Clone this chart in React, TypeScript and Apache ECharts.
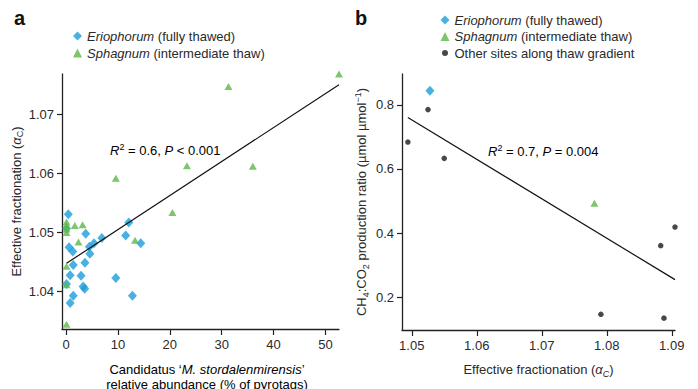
import React, { useEffect, useRef } from "react";
import * as echarts from "echarts";

const NAME_E = "Eriophorum (fully thawed)";
const NAME_S = "Sphagnum (intermediate thaw)";
const NAME_O = "Other sites along thaw gradient";

// Panel a: x = relative abundance (%), y = effective fractionation
const aEriophorum: [number, number][] = [
  [0.45, 1.0531], [0.1, 1.0507], [3.8, 1.0498], [0.6, 1.0475], [1.3, 1.0468],
  [4.5, 1.0476], [5.4, 1.0482], [6.9, 1.0491], [4.6, 1.0464], [3.65, 1.0449],
  [1.4, 1.0445], [0.8, 1.0428], [2.9, 1.0427], [3.3, 1.0409], [3.6, 1.0405],
  [1.4, 1.0393], [0.8, 1.0381], [0.1, 1.0413], [9.6, 1.0423], [11.5, 1.0495],
  [12.1, 1.0517], [12.8, 1.0393], [14.4, 1.0482],
];
const aSphagnum: [number, number][] = [
  [52.6, 1.0768], [31.3, 1.0747], [23.3, 1.0613], [36.0, 1.0612], [9.6, 1.0592],
  [20.5, 1.0534], [13.3, 1.0487], [0.1, 1.0345], [0.1, 1.0443], [0.1, 1.0412],
  [0.1, 1.0518], [0.1, 1.0512], [0.1, 1.0506], [0.1, 1.05], [1.7, 1.0512],
  [3.2, 1.0513], [2.4, 1.0484],
];
const aFit: [number, number][] = [[0.1, 1.0448], [52.6, 1.075]];
const aXTicks = [0, 10, 20, 30, 40, 50];
const aYTicks = [1.04, 1.05, 1.06, 1.07];

// Panel b: x = effective fractionation, y = CH4:CO2 production ratio
const bEriophorum: [number, number][] = [[1.0528, 0.8435]];
const bSphagnum: [number, number][] = [[1.0781, 0.493]];
const bOther: [number, number][] = [
  [1.0494, 0.684], [1.0525, 0.785], [1.055, 0.633], [1.0905, 0.419],
  [1.0883, 0.361], [1.0791, 0.147], [1.0888, 0.135],
];
const bFit: [number, number][] = [[1.0494, 0.7605], [1.0905, 0.255]];
const bXTicks = [1.05, 1.06, 1.07, 1.08, 1.09];
const bYTicks = [0.2, 0.4, 0.6, 0.8];

const FONT = "'Liberation Sans', Arial, Helvetica, sans-serif";
const TXT = "#2a2a2a";
const BLUE = "#1c9ddb";
const GREEN = "#5cb848";
const DOT = "#1a1a1a";
const SMALL_DOT_ICON =
  "path://M0,0 M9,9 M4.5,1.5 A3,3 0 1,1 4.5,7.5 A3,3 0 1,1 4.5,1.5 Z";

const legendRich = {
  i: { fontStyle: "italic", fontSize: 13, fontFamily: FONT, color: TXT },
  n: { fontSize: 13, fontFamily: FONT, color: TXT },
};
const legendFormatter = (name: string) => {
  if (name === NAME_E) return "{i|Eriophorum}{n| (fully thawed)}";
  if (name === NAME_S) return "{i|Sphagnum}{n| (intermediate thaw)}";
  return "{n|" + name + "}";
};

const axisCommon = {
  axisLine: { show: true, onZero: false, lineStyle: { color: "#222", width: 1.3 } },
  axisTick: { show: true, length: 5, lineStyle: { color: "#222", width: 1.2 } },
  splitLine: { show: false },
};

export default function App() {
  const ref = useRef<HTMLDivElement>(null);
  useEffect(() => {
    if (!ref.current) return;
    const chart = echarts.init(ref.current, null, { renderer: "svg" });
    const labelStyle = { color: TXT, fontSize: 13, fontFamily: FONT };
    const base = { fontSize: 13, fontFamily: FONT, color: TXT, lineHeight: 17 };
    const nameRich = {
      n: { ...base },
      i: { ...base, fontStyle: "italic" },
      sub: { fontSize: 9, fontFamily: FONT, color: TXT, verticalAlign: "bottom", lineHeight: 10 },
      isub: { fontSize: 9, fontFamily: FONT, color: TXT, fontStyle: "italic", verticalAlign: "bottom", lineHeight: 10 },
      sup: { fontSize: 9, fontFamily: FONT, color: TXT, verticalAlign: "top", lineHeight: 10 },
    };
    const twoLineRich = {
      n: { fontSize: 13, fontFamily: FONT, color: TXT, lineHeight: 15 },
      i: { fontSize: 13, fontFamily: FONT, color: TXT, lineHeight: 15, fontStyle: "italic" },
    };
    chart.setOption({
      animation: false,
      textStyle: { fontFamily: FONT },
      grid: [
        { left: 62, top: 74, width: 277, height: 255 },
        { left: 402, top: 74, width: 273, height: 256 },
      ],
      xAxis: [
        {
          type: "value", gridIndex: 0, min: -0.77, max: 52.6,
          ...axisCommon,
          axisTick: { ...axisCommon.axisTick, length: 6, customValues: aXTicks },
          axisLabel: { ...labelStyle, margin: 9, customValues: aXTicks, formatter: (v: number) => String(v) },
        },
        {
          type: "value", gridIndex: 1, min: 1.0485, max: 1.0905,
          ...axisCommon,
          axisTick: { ...axisCommon.axisTick, length: 6, customValues: bXTicks },
          axisLabel: { ...labelStyle, margin: 9, customValues: bXTicks, formatter: (v: number) => v.toFixed(2) },
          name: "{n|Effective fractionation (}{i|α}{isub|C}{n|)}",
          nameLocation: "middle", nameGap: 31,
          nameTextStyle: { color: TXT, fontSize: 13, rich: nameRich },
        },
      ],
      yAxis: [
        {
          type: "value", gridIndex: 0, min: 1.0337, max: 1.0768,
          ...axisCommon,
          axisTick: { ...axisCommon.axisTick, customValues: aYTicks },
          axisLabel: { ...labelStyle, margin: 8, customValues: aYTicks, formatter: (v: number) => v.toFixed(2) },
          name: "{n|Effective fractionation (}{i|α}{sub|C}{n|)}",
          nameLocation: "middle", nameGap: 34, nameRotate: 90,
          nameTextStyle: { color: TXT, fontSize: 13, rich: nameRich },
        },
        {
          type: "value", gridIndex: 1, min: 0.098, max: 0.896,
          ...axisCommon,
          axisTick: { ...axisCommon.axisTick, customValues: bYTicks },
          axisLabel: { ...labelStyle, margin: 8, customValues: bYTicks, formatter: (v: number) => v.toFixed(1) },
          name: "{n|CH}{sub|4}{n|:CO}{sub|2}{n| production ratio (µmol µmol}{sup|−1}{n|)}",
          nameLocation: "middle", nameGap: 32, nameRotate: 90,
          nameTextStyle: { color: TXT, fontSize: 13, rich: nameRich },
        },
      ],
      legend: [
        {
          orient: "vertical", left: 73, top: 28, itemWidth: 9, itemHeight: 9, itemGap: 1,
          padding: 0, selectedMode: false,
          data: [NAME_E, NAME_S],
          formatter: legendFormatter,
          textStyle: { fontSize: 13, lineHeight: 16, color: TXT, rich: legendRich },
        },
        {
          orient: "vertical", left: 440.5, top: 12, itemWidth: 9, itemHeight: 9, itemGap: 0.5,
          padding: 0, selectedMode: false,
          data: [NAME_E, NAME_S, { name: NAME_O, icon: SMALL_DOT_ICON }],
          formatter: legendFormatter,
          textStyle: { fontSize: 13, lineHeight: 16, color: TXT, rich: legendRich },
        },
      ],
      series: [
        {
          name: NAME_E, type: "scatter", xAxisIndex: 0, yAxisIndex: 0, data: aEriophorum,
          symbol: "diamond", symbolSize: [9, 10], itemStyle: { color: BLUE }, clip: false,
        },
        {
          name: NAME_S, type: "scatter", xAxisIndex: 0, yAxisIndex: 0, data: aSphagnum,
          symbol: "triangle", symbolSize: [8, 7], itemStyle: { color: GREEN }, clip: false,
        },
        {
          name: "fitA", type: "line", xAxisIndex: 0, yAxisIndex: 0, data: aFit,
          symbol: "none", lineStyle: { color: "#111", width: 1.2 }, clip: false,
        },
        {
          name: NAME_E, type: "scatter", xAxisIndex: 1, yAxisIndex: 1, data: bEriophorum,
          symbol: "diamond", symbolSize: [9, 10], itemStyle: { color: BLUE }, clip: false,
        },
        {
          name: NAME_S, type: "scatter", xAxisIndex: 1, yAxisIndex: 1, data: bSphagnum,
          symbol: "triangle", symbolSize: [8, 7], itemStyle: { color: GREEN }, clip: false,
        },
        {
          name: NAME_O, type: "scatter", xAxisIndex: 1, yAxisIndex: 1, data: bOther,
          symbol: "circle", symbolSize: 5.5, itemStyle: { color: DOT }, clip: false,
        },
        {
          name: "fitB", type: "line", xAxisIndex: 1, yAxisIndex: 1, data: bFit,
          symbol: "none", lineStyle: { color: "#111", width: 1.2 }, clip: false,
        },
      ],
      graphic: [
        {
          type: "text", left: 14, top: 8,
          style: { text: "a", font: `bold 20px ${FONT}`, fill: "#111" },
        },
        {
          type: "text", left: 355, top: 8,
          style: { text: "b", font: `bold 20px ${FONT}`, fill: "#111" },
        },
        {
          type: "text", x: 207, y: 362,
          style: {
            text: "{n|Candidatus ‘}{i|M. stordalenmirensis}{n|’}\n{n|relative abundance (% of pyrotags)}",
            rich: twoLineRich,
            align: "center",
            verticalAlign: "top",
          },
        },
        {
          type: "text", left: 110, top: 142,
          style: {
            text: "{i|R}{sup|2}{n| = 0.6, }{i|P}{n| < 0.001}",
            rich: nameRich,
          },
        },
        {
          type: "text", left: 488, top: 143,
          style: {
            text: "{i|R}{sup|2}{n| = 0.7, }{i|P}{n| = 0.004}",
            rich: nameRich,
          },
        },
      ],
    });
    return () => chart.dispose();
  }, []);
  return (
    <div
      ref={ref}
      style={{ position: "fixed", left: 0, top: 0, width: 698, height: 389, background: "#fff" }}
    />
  );
}
